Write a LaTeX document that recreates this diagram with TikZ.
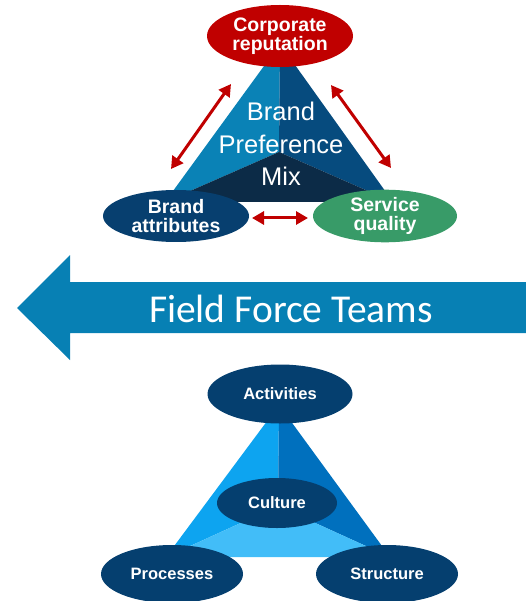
\documentclass[tikz,border=0pt]{standalone}
\usepackage{fontspec}
\setmainfont{Liberation Sans}
\newfontfamily\calib{Carlito}
\usetikzlibrary{shapes.geometric,arrows.meta}
\definecolor{cred}{HTML}{C00000}
\definecolor{cnavy}{HTML}{073F6F}
\definecolor{cgreen}{HTML}{389B68}
\definecolor{tleft}{HTML}{0A82B6}
\definecolor{tright}{HTML}{064B7E}
\definecolor{tbot}{HTML}{0C2B47}
\definecolor{arrowblue}{HTML}{0780B4}
\definecolor{bleft}{HTML}{0DA4F0}
\definecolor{bright}{HTML}{0070BE}
\definecolor{bbot}{HTML}{42BDF8}
\definecolor{bnavy}{HTML}{053F6F}
\tikzset{
  oval/.style={ellipse, inner sep=0pt, text=white, align=center, font=\bfseries\fontsize{19.5}{19}\selectfont},
  smalloval/.style={ellipse, inner sep=0pt, text=white, align=center, fill=bnavy, font=\bfseries\fontsize{16.5}{18}\selectfont},
  redarrow/.style={draw=cred, line width=3pt, {Triangle[length=12pt,width=13pt]}-{Triangle[length=12pt,width=13pt]}}
}
\begin{document}
\begin{tikzpicture}[x=1pt,y=-1pt]
\useasboundingbox (0,0) rectangle (526,601);
% top triangle
\coordinate (tA) at (280,44);
\coordinate (tL) at (165,202);
\coordinate (tR) at (393,202);
\coordinate (tC) at (279,152);
\fill[tleft] (tA) -- (tC) -- (tL) -- cycle;
\fill[tright] (tA) -- (tR) -- (tC) -- cycle;
\fill[tbot] (tL) -- (tC) -- (tR) -- cycle;
\node[text=white, align=center, font=\fontsize{25.5}{32.5}\selectfont] (mix) at (281,144) {Brand\\Preference\\Mix};
% ellipses
\node[oval, fill=cred, minimum width=146pt, minimum height=62pt] (corp) at (280,36) {Corporate\\reputation};
\node[oval, fill=cnavy, minimum width=146pt, minimum height=52pt] (brand) at (176,216) {Brand\\attributes};
\node[oval, fill=cgreen, minimum width=144pt, minimum height=52pt] (serv) at (385,216) {Service\\quality};
% red arrows
\coordinate (a1s) at (231,84);
\coordinate (a1e) at (171,169);
\coordinate (a2s) at (331,85);
\coordinate (a2e) at (391,168);
\coordinate (a3s) at (252,218);
\coordinate (a3e) at (308,218);
\draw[redarrow] (a1s) -- (a1e);
\draw[redarrow] (a2s) -- (a2e);
\draw[redarrow] (a3s) -- (a3e);
% big arrow
\fill[arrowblue] (17,308) -- (70,255) -- (70,282) -- (526,282) -- (526,333) -- (70,333) -- (70,360) -- cycle;
\node[text=white, font=\calib\fontsize{39.5}{42}\selectfont] (fft) at (291,309) {Field Force Teams};
% bottom triangle
\coordinate (bA) at (279,405);
\coordinate (bL) at (166,557);
\coordinate (bR) at (390,557);
\coordinate (bC) at (278,506);
\fill[bleft] (bA) -- (bC) -- (bL) -- cycle;
\fill[bright] (bA) -- (bR) -- (bC) -- cycle;
\fill[bbot] (bL) -- (bC) -- (bR) -- cycle;
\node[smalloval, minimum width=145pt, minimum height=59pt] (act) at (280,394) {Activities};
\node[smalloval, minimum width=120pt, minimum height=50pt] (cult) at (277,503) {Culture};
\node[smalloval, minimum width=142pt, minimum height=58pt] (proc) at (172,574) {Processes};
\node[smalloval, minimum width=142pt, minimum height=58pt] (struc) at (387,574) {Structure};
\end{tikzpicture}
\end{document}
